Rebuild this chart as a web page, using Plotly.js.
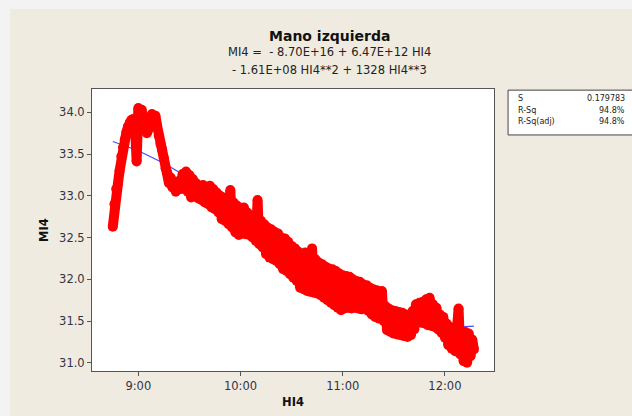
<!DOCTYPE html>
<html>
<head>
<meta charset="utf-8">
<script src="https://cdn.plot.ly/plotly-3.0.1.min.js"></script>
<style>
  html, body { margin: 0; padding: 0; background: #f3f3f3; width: 632px; height: 416px; overflow: hidden; }
  #chart { position: absolute; left: 10px; top: 9px; width: 622px; height: 407px; }
</style>
</head>
<body>
<div id="chart"></div>
<script>
// ---- Data ----
const titleText = "Mano izquierda";
const equationLine1 = "MI4 =  - 8.70E+16 + 6.47E+12 HI4";
const equationLine2 = "- 1.61E+08 HI4**2 + 1328 HI4**3";
const xAxisLabel = "HI4";
const yAxisLabel = "MI4";

const statNames = ["S", "R-Sq", "R-Sq(adj)"];
const statValues = ["0.179783", "94.8%", "94.8%"];

const xTickLabels = ["9:00", "10:00", "11:00", "12:00"];
const yTickValues = [31.0, 31.5, 32.0, 32.5, 33.0, 33.5, 34.0];

// observed HI4 (time of day) and MI4 values
const obsTimes = [
"8:45","8:46","8:47","8:48","8:49","8:50","8:51","8:52","8:53","8:54","8:55","8:56","8:57","8:58","8:59",
"9:00","9:01","9:02","9:03","9:04","9:05","9:06","9:07","9:08","9:09","9:10","9:11","9:12","9:13","9:14",
"9:15","9:16","9:17","9:18","9:19","9:20","9:21","9:22","9:23","9:24","9:25","9:26","9:27","9:28","9:29",
"9:30","9:31","9:32","9:33","9:34","9:35","9:36","9:37","9:38","9:39","9:40","9:41","9:42","9:43","9:44",
"9:45","9:46","9:47","9:48","9:49","9:50","9:51","9:52","9:53","9:54","9:55","9:56","9:57","9:58","9:59",
"10:00","10:01","10:02","10:03","10:04","10:05","10:06","10:07","10:08","10:09","10:10","10:11","10:12","10:13","10:14",
"10:15","10:16","10:17","10:18","10:19","10:20","10:21","10:22","10:23","10:24","10:25","10:26","10:27","10:28","10:29",
"10:30","10:31","10:32","10:33","10:34","10:35","10:36","10:37","10:38","10:39","10:40","10:41","10:42","10:43","10:44",
"10:45","10:46","10:47","10:48","10:49","10:50","10:51","10:52","10:53","10:54","10:55","10:56","10:57","10:58","10:59",
"11:00","11:01","11:02","11:03","11:04","11:05","11:06","11:07","11:08","11:09","11:10","11:11","11:12","11:13","11:14",
"11:15","11:16","11:17","11:18","11:19","11:20","11:21","11:22","11:23","11:24","11:25","11:26","11:27","11:28","11:29",
"11:30","11:31","11:32","11:33","11:34","11:35","11:36","11:37","11:38","11:39","11:40","11:41","11:42","11:43","11:44",
"11:45","11:46","11:47","11:48","11:49","11:50","11:51","11:52","11:53","11:54","11:55","11:56","11:57","11:58","11:59",
"12:00","12:01","12:02","12:03","12:04","12:05","12:06","12:07","12:08","12:09","12:10","12:11","12:12","12:13","12:14",
"12:15","12:16","12:17"
];
const obsValues = [
32.63,32.90,33.08,33.14,33.30,33.47,33.58,33.67,33.76,33.83,33.88,33.91,33.92,33.87,33.41,
34.05,33.98,34.03,33.80,33.92,33.75,33.80,33.90,33.98,33.93,33.96,33.84,33.72,33.62,33.55,
33.45,33.33,33.28,33.15,33.22,33.10,33.16,33.05,33.12,33.18,33.08,33.26,33.14,33.29,33.05,
33.25,32.98,33.20,33.04,33.15,32.97,33.12,32.95,33.13,32.92,33.10,32.90,33.12,32.86,33.08,
32.84,33.04,32.80,33.00,32.72,32.98,32.70,32.96,32.66,33.07,32.62,32.92,32.56,32.88,32.53,
32.84,32.55,32.86,32.54,32.80,32.53,32.76,32.50,32.72,32.46,32.95,32.42,32.70,32.38,32.66,
32.30,32.62,32.26,32.60,32.24,32.57,32.22,32.55,32.18,32.50,32.12,32.49,32.10,32.45,32.06,
32.40,32.02,32.37,31.98,32.33,31.90,32.30,31.88,32.32,31.86,32.30,31.85,32.37,31.84,32.24,
31.83,32.20,31.81,32.18,31.78,32.15,31.75,32.13,31.72,32.12,31.69,32.10,31.66,32.07,31.63,
32.05,31.65,32.04,31.66,32.03,31.65,32.00,31.66,31.98,31.65,31.97,31.64,31.94,31.66,31.93,
31.62,31.90,31.58,31.88,31.55,31.87,31.53,31.85,31.86,31.50,31.68,31.39,31.65,31.37,31.63,
31.35,31.62,31.34,31.61,31.33,31.60,31.32,31.58,31.31,31.57,31.33,31.62,31.40,31.70,31.49,
31.72,31.48,31.73,31.47,31.76,31.45,31.78,31.44,31.70,31.43,31.66,31.40,31.58,31.36,31.55,
31.30,31.47,31.21,31.43,31.17,31.40,31.14,31.38,31.65,31.10,31.36,31.02,31.37,31.00,31.35,
31.08,31.28,31.16
];

// fitted cubic regression line
const fitTimes = ["8:45","9:00","9:15","9:30","9:45","10:00","10:15","10:30","10:45","11:00","11:15","11:30","11:45","12:00","12:10","12:17"];
const fitValues = [33.65,33.54,33.39,33.21,33.01,32.79,32.57,32.35,32.14,31.95,31.78,31.63,31.52,31.45,31.43,31.44];

// ---- helpers ----
function toMinutes(s) {
  const p = s.split(":").map(Number);
  return p[0] * 60 + p[1] + (p.length > 2 ? p[2] / 60 : 0);
}

const fontFam = "DejaVu Sans, Verdana, sans-serif";
const textCol = "#333344";

const traces = [
  {
    x: fitTimes.map(toMinutes), y: fitValues,
    type: "scatter", mode: "lines",
    line: { color: "#4a4aff", width: 1.2 },
    hoverinfo: "skip", showlegend: false
  },
  {
    x: obsTimes.map(toMinutes), y: obsValues,
    type: "scatter", mode: "lines+markers",
    line: { color: "#ff0000", width: 10 },
    marker: { color: "#ff0000", size: 10 },
    showlegend: false
  }
];

const statRowsY = [0.965, 0.923, 0.884];
const annotations = [
  { text: "<b>" + titleText + "</b>", xref: "paper", yref: "paper", x: 0.592, y: 1.188,
    showarrow: false, xanchor: "center", yanchor: "middle",
    font: { family: fontFam, size: 14, color: "#111111" } },
  { text: equationLine1, xref: "paper", yref: "paper", x: 0.592, y: 1.131,
    showarrow: false, xanchor: "center", yanchor: "middle",
    font: { family: fontFam, size: 11.5, color: "#222222" } },
  { text: equationLine2, xref: "paper", yref: "paper", x: 0.592, y: 1.067,
    showarrow: false, xanchor: "center", yanchor: "middle",
    font: { family: fontFam, size: 11.5, color: "#222222" } }
];
statNames.forEach((n, i) => {
  annotations.push({ text: n, xref: "paper", yref: "paper", x: 1.054, y: statRowsY[i],
    showarrow: false, xanchor: "left", yanchor: "middle",
    font: { family: fontFam, size: 8, color: "#222222" } });
  annotations.push({ text: statValues[i], xref: "paper", yref: "paper", x: 1.330, y: statRowsY[i],
    showarrow: false, xanchor: "right", yanchor: "middle",
    font: { family: fontFam, size: 8, color: "#222222" } });
});

const layout = {
  width: 622, height: 407,
  margin: { l: 82, r: 138, t: 80, b: 45 },
  paper_bgcolor: "#f0ebe0",
  plot_bgcolor: "#ffffff",
  showlegend: false,
  xaxis: {
    range: [512.8, 748.8],
    tickvals: xTickLabels.map(toMinutes),
    ticktext: xTickLabels,
    ticks: "outside", ticklen: 4, tickcolor: "#555555",
    showgrid: false, zeroline: false,
    showline: true, linecolor: "#555555", linewidth: 1, mirror: true,
    tickfont: { family: fontFam, size: 11.5, color: textCol },
    title: { text: "<b>" + xAxisLabel + "</b>", standoff: 6,
             font: { family: fontFam, size: 11.5, color: "#111111" } }
  },
  yaxis: {
    range: [30.902, 34.279],
    tickvals: yTickValues,
    tickformat: ".1f",
    ticks: "outside", ticklen: 4, tickcolor: "#555555",
    showgrid: false, zeroline: false,
    showline: true, linecolor: "#555555", linewidth: 1, mirror: true,
    tickfont: { family: fontFam, size: 11.5, color: textCol },
    title: { text: "<b>" + yAxisLabel + "</b>", standoff: 8,
             font: { family: fontFam, size: 11.5, color: "#111111" } }
  },
  shapes: [
    { type: "rect", xref: "paper", yref: "paper",
      x0: 1.035, x1: 1.345, y0: 0.837, y1: 0.996,
      fillcolor: "#ffffff", line: { color: "#444444", width: 1 } }
  ],
  annotations: annotations
};

Plotly.newPlot("chart", traces, layout, { displayModeBar: false, staticPlot: true });
</script>
</body>
</html>
